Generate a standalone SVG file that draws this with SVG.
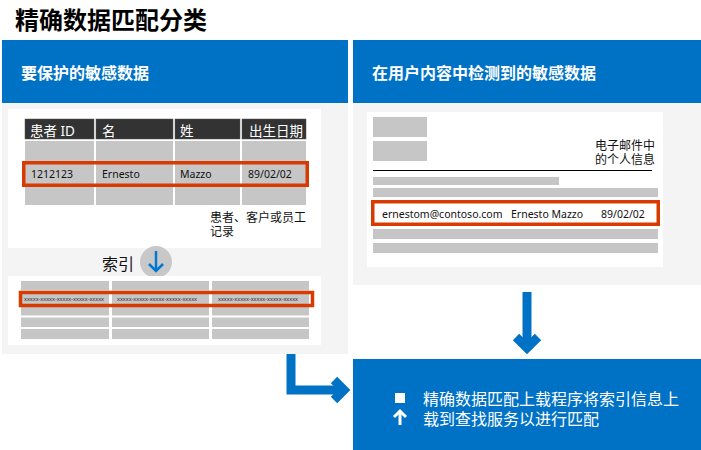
<svg xmlns="http://www.w3.org/2000/svg" width="701" height="450" viewBox="0 0 701 450">
<style>
text{font-family:"Noto Sans","Noto Sans CJK SC",sans-serif;}
.cjk{font-family:"Noto Sans CJK SC","Noto Sans",sans-serif;}
.blue{fill:#0072C6;}
.panel{fill:#F4F4F4;}
.card{fill:#FFFFFF;}
.cell{fill:#C6C6C6;}
.hcell{fill:#333333;stroke:#555;stroke-width:0.5;}
.hl{fill:none;stroke:#D83B01;stroke-width:3.5;}
.hw{fill:#FFFFFF;stroke:#D83B01;stroke-width:3.5;}
.th{fill:#FFFFFF;font-size:13.5px;}
.td{fill:#111;font-size:10.5px;}
.tiny{fill:#222;font-size:5.5px;}
.lbl{fill:#111;font-size:12px;}
.arrow{fill:none;stroke:#0072C6;stroke-width:9;stroke-linejoin:miter;stroke-linecap:butt;}
</style>

<text class="cjk" x="15" y="29" font-size="24" font-weight="bold" fill="#000">精确数据匹配分类</text>

<g id="protected-data">
  <rect class="blue" x="2" y="40" width="346" height="63"/>
  <text class="cjk" x="21" y="79" font-size="16" font-weight="bold" fill="#fff">要保护的敏感数据</text>
  <rect class="panel" x="2" y="103" width="346" height="251"/>
  <g id="records-table">
    <rect class="card" x="8" y="109" width="313" height="139"/>
    <rect class="hcell" x="25" y="119" width="69" height="20"/>
    <rect class="hcell" x="96" y="119" width="77" height="20"/>
    <rect class="hcell" x="175" y="119" width="65" height="20"/>
    <rect class="hcell" x="242" y="119" width="64" height="20"/>
    <text class="th" x="30" y="136">患者 ID</text>
    <text class="th cjk" x="102" y="136">名</text>
    <text class="th cjk" x="180" y="136">姓</text>
    <text class="th cjk" x="249" y="136">出生日期</text>
    <rect class="cell" x="25" y="141" width="69" height="64"/>
    <rect class="cell" x="96" y="141" width="77" height="64"/>
    <rect class="cell" x="175" y="141" width="65" height="64"/>
    <rect class="cell" x="242" y="141" width="64" height="64"/>
    <rect class="hl" x="23.75" y="162.75" width="283.5" height="22.5"/>
    <text class="td" x="31" y="178" font-size="9.5">1212123</text>
    <text class="td" x="102" y="178">Ernesto</text>
    <text class="td" x="180" y="178">Mazzo</text>
    <text class="td" x="248" y="178">89/02/02</text>
    <text class="lbl cjk" x="210" y="222">患者、客户或员工<tspan x="210" dy="14">记录</tspan></text>
  </g>
  <g id="index-step">
    <text class="cjk" x="102" y="270" font-size="16" fill="#111">索引</text>
    <circle cx="156" cy="262" r="16" fill="#C8C8C8"/>
    <path d="M156 251 V271 M149 264 L156 271 L163 264" fill="none" stroke="#0078D4" stroke-width="2.5"/>
  </g>
  <g id="hash-table">
    <rect class="card" x="8" y="276" width="313" height="69"/>
    <rect class="cell" x="21" y="281" width="88" height="9.5"/>
    <rect class="cell" x="112" y="281" width="97" height="9.5"/>
    <rect class="cell" x="212" y="281" width="97" height="9.5"/>
    <rect class="cell" x="21" y="292" width="88" height="13"/>
    <rect class="cell" x="112" y="292" width="97" height="13"/>
    <rect class="cell" x="212" y="292" width="97" height="13"/>
    <rect class="cell" x="21" y="306.5" width="88" height="9"/>
    <rect class="cell" x="112" y="306.5" width="97" height="9"/>
    <rect class="cell" x="212" y="306.5" width="97" height="9"/>
    <rect class="cell" x="21" y="317.5" width="88" height="9.5"/>
    <rect class="cell" x="112" y="317.5" width="97" height="9.5"/>
    <rect class="cell" x="212" y="317.5" width="97" height="9.5"/>
    <rect class="cell" x="21" y="329" width="88" height="10"/>
    <rect class="cell" x="112" y="329" width="97" height="10"/>
    <rect class="cell" x="212" y="329" width="97" height="10"/>
    <rect class="hl" x="20.5" y="292.5" width="292" height="13"/>
    <text class="tiny" x="24" y="300.5" textLength="80" lengthAdjust="spacingAndGlyphs">xxxxx-xxxxx-xxxxx-xxxxx-xxxxx</text>
    <text class="tiny" x="117" y="300.5" textLength="80" lengthAdjust="spacingAndGlyphs">xxxxx-xxxxx-xxxxx-xxxxx-xxxxx</text>
    <text class="tiny" x="218" y="300.5" textLength="80" lengthAdjust="spacingAndGlyphs">xxxxx-xxxxx-xxxxx-xxxxx-xxxxx</text>
  </g>
</g>

<g id="detected-data">
  <rect class="blue" x="353" y="40" width="348" height="63"/>
  <text class="cjk" x="372" y="79" font-size="16" font-weight="bold" fill="#fff">在用户内容中检测到的敏感数据</text>
  <rect class="panel" x="353" y="103" width="348" height="182"/>
  <g id="email">
    <rect class="card" x="367" y="112" width="296" height="155"/>
    <rect class="cell" x="373" y="117" width="54" height="20"/>
    <rect class="cell" x="373" y="141" width="54" height="20"/>
    <text class="lbl cjk" x="595" y="150">电子邮件中<tspan x="595" dy="14">的个人信息</tspan></text>
    <line x1="373" y1="170.5" x2="652" y2="170.5" stroke="#000" stroke-width="1.2"/>
    <rect class="cell" x="373" y="177" width="186" height="8"/>
    <rect class="cell" x="373" y="188" width="285" height="9"/>
    <rect class="hw" x="372.75" y="201.75" width="285.5" height="22.5"/>
    <text class="td" x="382" y="218" font-size="11">ernestom@contoso.com</text>
    <text class="td" x="511" y="218" font-size="11">Ernesto Mazzo</text>
    <text class="td" x="601" y="218" font-size="11">89/02/02</text>
    <rect class="cell" x="373" y="229" width="285" height="10"/>
    <rect class="cell" x="373" y="243" width="285" height="10"/>
  </g>
</g>

<g id="connectors">
  <path class="arrow" d="M527 292 V349"/>
  <path class="arrow" d="M516 337 L527 348 L538 337"/>
  <path class="arrow" d="M291 354 V390 H343"/>
  <path class="arrow" d="M334 380 L344 390 L334 400"/>
</g>

<g id="upload">
  <rect class="blue" x="353" y="359" width="348" height="91"/>
  <rect x="395" y="393" width="10" height="10" fill="#fff"/>
  <path d="M400 425 V412 M394 417 L400 411 L406 417" fill="none" stroke="#fff" stroke-width="3"/>
  <text class="cjk" x="423" y="405" font-size="16" fill="#fff">精确数据匹配上载程序将索引信息上<tspan x="423" dy="20">载到查找服务以进行匹配</tspan></text>
</g>
</svg>
